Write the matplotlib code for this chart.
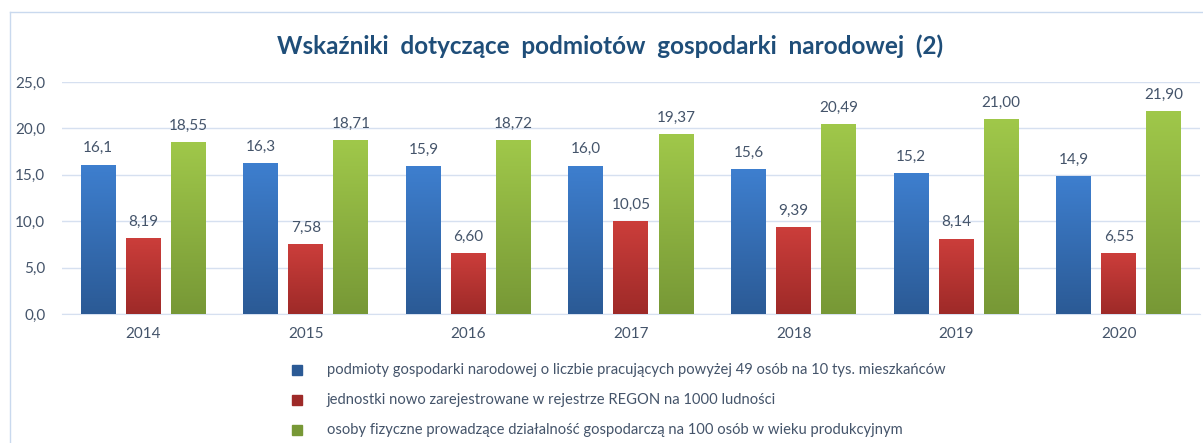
import numpy as np
import matplotlib.pyplot as plt
from matplotlib.lines import Line2D
from matplotlib.colors import LinearSegmentedColormap

years = ["2014", "2015", "2016", "2017", "2018", "2019", "2020"]
podmioty = [16.1, 16.3, 15.9, 16.0, 15.6, 15.2, 14.9]
jednostki = [8.19, 7.58, 6.60, 10.05, 9.39, 8.14, 6.55]
osoby = [18.55, 18.71, 18.72, 19.37, 20.49, 21.00, 21.90]

labels = [
    "podmioty gospodarki narodowej o liczbie pracujących powyżej 49 osób na 10 tys. mieszkańców",
    "jednostki nowo zarejestrowane w rejestrze REGON na 1000 ludności",
    "osoby fizyczne prowadzące działalność gospodarczą na 100 osób w wieku produkcyjnym",
]
title = "Wskaźniki  dotyczące  podmiotów  gospodarki  narodowej  (2)"

# top / bottom gradient colours
grads = [("#3E7FCF", "#2B5A95"), ("#CC3E3B", "#9E2A28"), ("#A0C84A", "#779836")]
fmts = ["{:.1f}", "{:.2f}", "{:.2f}"]

txt = "#44546A"
plt.rcParams['font.family'] = ['Lato', 'DejaVu Sans']

fig = plt.figure(figsize=(12.03, 4.43), dpi=100)
ax = fig.add_axes([0.0515, 0.291, 0.946, 0.524])

x = np.arange(len(years))
w = 0.215
step = 0.277
series = [podmioty, jednostki, osoby]
grad = np.linspace(1, 0, 256).reshape(-1, 1)
for i, vals in enumerate(series):
    bars = ax.bar(x + (i - 1) * step, vals, w, color=grads[i][0], zorder=2,
                  edgecolor="none")
    cmap = LinearSegmentedColormap.from_list("g%d" % i, [grads[i][1], grads[i][0]])
    for b, v in zip(bars, vals):
        bx, by = b.get_x(), b.get_y()
        im = ax.imshow(grad, cmap=cmap, aspect="auto", zorder=3,
                       extent=[bx, bx + b.get_width(), by, by + b.get_height()])
        im.set_clip_path(b)
        ax.text(bx + b.get_width() / 2, v + 1.0, fmts[i].format(v).replace(".", ","),
                ha="center", va="bottom", fontsize=11, color=txt, zorder=4)

ax.set_xlim(-0.5, len(years) - 0.5)
ax.set_ylim(0, 25)
ax.set_yticks(np.arange(0, 26, 5))
ax.set_yticklabels([("%.1f" % t).replace(".", ",") for t in np.arange(0, 26, 5)])
ax.set_xticks(x)
ax.set_xticklabels(years)
ax.tick_params(length=0, labelsize=11, labelcolor=txt)
ax.tick_params(axis="x", pad=9)
ax.tick_params(axis="y", pad=12)
ax.grid(axis="y", color="#D6E0F0", lw=1, zorder=0)
for s in ["top", "right", "left"]:
    ax.spines[s].set_visible(False)
ax.spines["bottom"].set_color("#D6E0F0")
ax.set_axisbelow(True)

fig.text(0.507, 0.895, title, ha="center", va="center", fontsize=17.5,
         fontweight="bold", color="#1F4E79")

# legend rows
for i, lab in enumerate(labels):
    yy = 1 - (370 + 30 * i) / 443
    fig.patches.append(plt.Rectangle((292 / 1203, yy - 5 / 443), 10 / 1203, 10 / 443,
                                     transform=fig.transFigure, figure=fig,
                                     color=grads[i][1]))
    fig.text(327 / 1203, yy, lab, ha="left", va="center", fontsize=10.6, color=txt)

# outer border
bc = "#C9D9EE"
fig.add_artist(Line2D([10 / 1203, 10 / 1203], [0, 1 - 12 / 443], color=bc, lw=1,
                      transform=fig.transFigure))
fig.add_artist(Line2D([10 / 1203, 1], [1 - 12 / 443, 1 - 12 / 443], color=bc, lw=1,
                      transform=fig.transFigure))

fig.savefig("out.png", dpi=100)
